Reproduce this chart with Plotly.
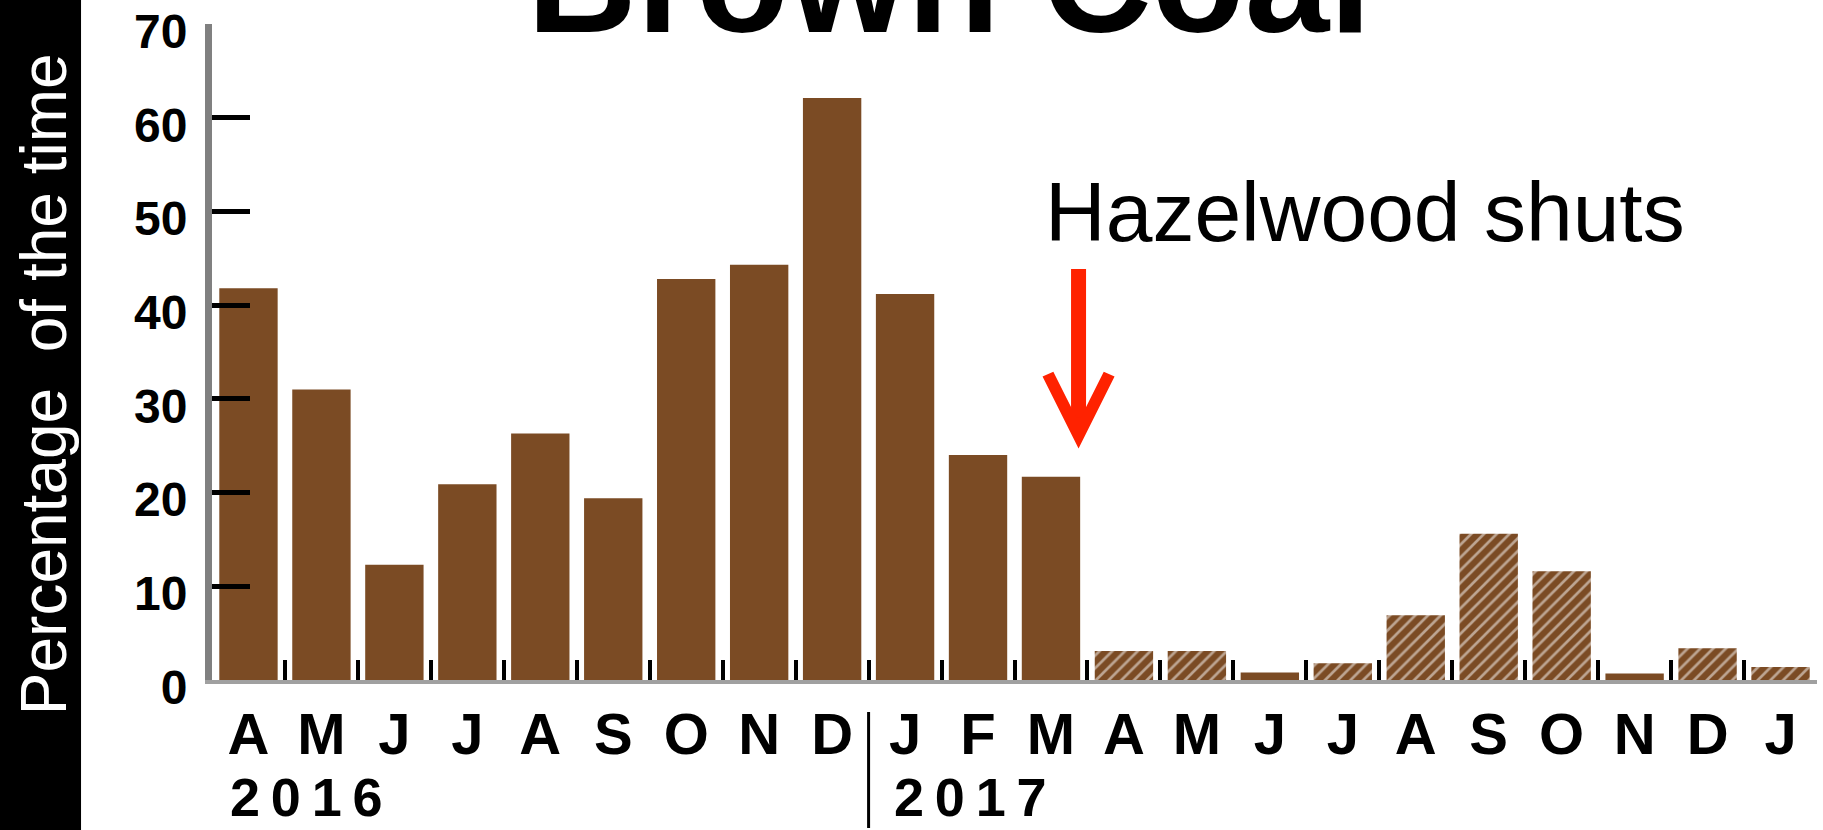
import plotly.graph_objects as go

# monthly share of time brown coal sets the price (%)
months = ["Apr 2016", "May 2016", "Jun 2016", "Jul 2016", "Aug 2016", "Sep 2016",
          "Oct 2016", "Nov 2016", "Dec 2016", "Jan 2017", "Feb 2017", "Mar 2017",
          "Apr 2017", "May 2017", "Jun 2017", "Jul 2017", "Aug 2017", "Sep 2017",
          "Oct 2017", "Nov 2017", "Dec 2017", "Jan 2018"]
month_letters = ["A", "M", "J", "J", "A", "S", "O", "N", "D", "J", "F", "M",
                 "A", "M", "J", "J", "A", "S", "O", "N", "D", "J"]
solid_pct = [41.8, 31.0, 12.3, 20.9, 26.3, 19.4, 42.8, 44.3, 62.1, 41.2, 24.0, 21.7,
             None, None, 0.8, None, None, None, None, 0.7, None, None]
hatched_pct = [None, None, None, None, None, None, None, None, None, None, None, None,
               3.1, 3.1, None, 1.8, 6.9, 15.6, 11.6, None, 3.4, 1.4]
y_ticks = [0, 10, 20, 30, 40, 50, 60, 70]

BROWN = "#7B4B24"
NARROW = "Liberation Sans Narrow, Liberation Sans"

fig = go.Figure()
fig.add_trace(go.Bar(x=months, y=solid_pct, marker=dict(color=BROWN, line=dict(width=0))))
fig.add_trace(go.Bar(
    x=months, y=hatched_pct,
    marker=dict(color=BROWN, line=dict(width=0),
                pattern=dict(shape="/", fgcolor="white", size=9, solidity=0.3))))

fig.update_layout(
    width=1823, height=830, autosize=False,
    margin=dict(l=212, r=6, t=24, b=150),
    paper_bgcolor="white", plot_bgcolor="white",
    barmode="overlay", bargap=0.2, showlegend=False,
    xaxis=dict(
        type="category", range=[-0.5, 21.5], automargin=False,
        tickmode="array", tickvals=months, ticktext=month_letters,
        ticks="inside", tickson="boundaries", ticklen=20, tickwidth=4, tickcolor="black",
        showline=True, linecolor="#a0a0a0", linewidth=4, showgrid=False,
        tickfont=dict(family=NARROW, size=58, color="black", weight="bold"),
        ticklabelstandoff=0),
    yaxis=dict(
        range=[0, 70], tickmode="array", tickvals=y_ticks, automargin=False,
        ticks="inside", ticklen=38, tickwidth=5, tickcolor="black",
        showline=True, linecolor="#808080", linewidth=7,
        showgrid=False, zeroline=False, ticklabeloverflow="allow",
        tickfont=dict(family=NARROW, size=48, color="black", weight="bold"),
        ticklabelstandoff=8, ticklabelshift=7),
)

# black strip with the axis title
fig.add_shape(type="rect", xref="paper", yref="paper", x0=-0.1321, x1=-0.0816,
              y0=-0.2287, y1=1.0366, fillcolor="black", line=dict(width=0), layer="below")
fig.add_annotation(text="Percentage\u00a0 of the time", textangle=-90,
                   xref="paper", yref="paper", x=-0.1034, y=0.451, xshift=-40,
                   showarrow=False, font=dict(family="Liberation Sans", size=64, color="white"))

# title, cut by the top edge
fig.add_annotation(text="<b>Brown Coal</b>", xref="paper", yref="paper", x=0.459, y=1.069,
                   xanchor="center", yanchor="middle", showarrow=False,
                   font=dict(family="Liberation Sans", size=152, color="black"))

# Hazelwood closure note
fig.add_annotation(text="Hazelwood shuts", xref="paper", yref="paper", x=0.518, y=0.713,
                   xanchor="left", yanchor="middle", showarrow=False,
                   font=dict(family="Liberation Sans", size=84, color="black"))
fig.add_annotation(text="", x=11.378, y=24.7, xref="x", yref="y", ax=0, ay=-181,
                   showarrow=True, arrowhead=5, arrowwidth=15, arrowsize=0.8,
                   arrowcolor="#FF2200")

# years
fig.add_annotation(text="<b>2\u20090\u20091\u20096</b>", xref="paper", yref="paper", x=0.01, y=-0.2271,
                   xanchor="left", yanchor="bottom", showarrow=False,
                   font=dict(family=NARROW, size=54, color="black"))
fig.add_annotation(text="<b>2\u20090\u20091\u20097</b>", xref="paper", yref="paper", x=0.4237, y=-0.2271,
                   xanchor="left", yanchor="bottom", showarrow=False,
                   font=dict(family=NARROW, size=54, color="black"))
fig.add_shape(type="line", xref="x", yref="paper", x0=8.5, x1=8.5, y0=-0.0488, y1=-0.2256,
              line=dict(color="black", width=3))

fig.write_html("out.html", config={"displayModeBar": False},
               post_script="document.body.style.margin='0px';")
